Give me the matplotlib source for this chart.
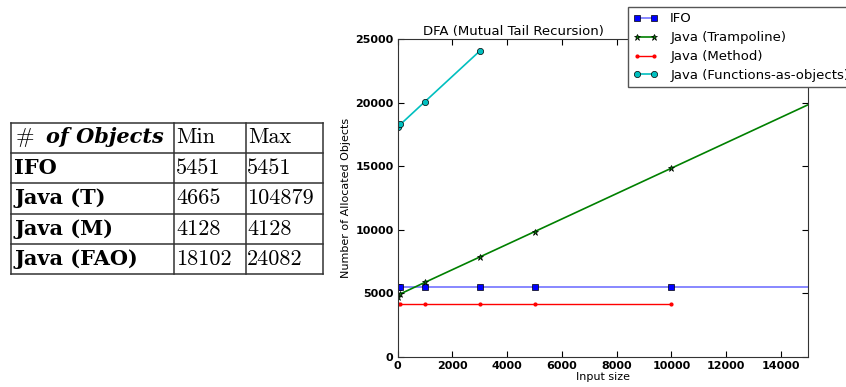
import matplotlib
matplotlib.use("Agg")
import matplotlib.pyplot as plt
from matplotlib.lines import Line2D

W, H = 846, 387

# table data
row_labels = ["IFO", "Java (T)", "Java (M)", "Java (FAO)"]
obj_min = [5451, 4665, 4128, 18102]
obj_max = [5451, 104879, 4128, 24082]

# series
x_ifo = [10, 100, 1000, 3000, 5000, 10000, 100000]
y_ifo = [5451, 5451, 5451, 5451, 5451, 5451, 5451]
x_tramp = [10, 100, 1000, 3000, 5000, 10000, 100000]
y_tramp = [4665, 4950, 5860, 7855, 9850, 14850, 104879]
x_meth = [10, 100, 1000, 3000, 5000, 10000]
y_meth = [4128, 4128, 4128, 4128, 4128, 4128]
x_fao = [10, 100, 1000, 3000]
y_fao = [18102, 18300, 20100, 24082]


def px(x, y):
    return x / W, 1 - y / H


fig = plt.figure(figsize=(W / 100, H / 100), dpi=100)
fig.patch.set_facecolor("white")

# --- table on the left ---
col_edges = [11, 174, 246, 323]
row_edges = [122.7, 152.5, 183.3, 214, 244.3, 274]
baselines = [143.3, 173.5, 204, 235, 265]
tfs = 16
lc = "#333333"
for yy in row_edges:
    fig.add_artist(Line2D([col_edges[0] / W, col_edges[-1] / W], [1 - yy / H] * 2,
                          color=lc, lw=1.1))
for xx in col_edges:
    fig.add_artist(Line2D([xx / W] * 2, [1 - row_edges[0] / H, 1 - row_edges[-1] / H],
                          color=lc, lw=1.1))

fig.text(*px(16, baselines[0]), "#", family="cmr10", fontsize=tfs, va="baseline")
fig.text(*px(46, baselines[0]), "of Objects", family="DejaVu Serif", fontsize=15,
         weight="bold", style="italic", va="baseline")
fig.text(*px(176, baselines[0]), "Min", family="cmr10", fontsize=tfs, va="baseline")
fig.text(*px(248, baselines[0]), "Max", family="cmr10", fontsize=tfs, va="baseline")
for i, lab in enumerate(row_labels):
    b = baselines[i + 1]
    fig.text(*px(14, b), lab, family="DejaVu Serif", fontsize=15, weight="bold",
             va="baseline")
    fig.text(*px(176, b), str(obj_min[i]), family="cmr10", fontsize=tfs, va="baseline")
    fig.text(*px(247, b), str(obj_max[i]), family="cmr10", fontsize=tfs, va="baseline")

# --- line chart ---
ax = fig.add_axes([397.7 / W, 1 - 356.7 / H, 410.6 / W, 317.4 / H])
ax.plot(x_ifo, y_ifo, "-", color="#7373ff", marker="s", ms=4.5, mfc="blue", mec="black",
        mew=0.5, lw=1.2, label="IFO")
ax.plot(x_tramp, y_tramp, "-", color="green", marker="*", ms=5, mfc="green", mec="black",
        mew=0.5, lw=1.2, label="Java (Trampoline)")
ax.plot(x_meth, y_meth, "-", color="red", marker=".", ms=4, mfc="red", mec="red",
        lw=1.0, label="Java (Method)")
ax.plot(x_fao, y_fao, "-", color="#00bfbf", marker="o", ms=4.5, mfc="#00bfbf", mec="black",
        mew=0.5, lw=1.2, label="Java (Functions-as-objects)")

ax.set_xlim(0, 15000)
ax.set_ylim(0, 25000)
ax.set_xticks(range(0, 15001, 2000))
ax.set_yticks(range(0, 25001, 5000))
ax.tick_params(direction="in", top=True, right=True, labelsize=8, length=4, pad=3)
for lbl in ax.get_xticklabels() + ax.get_yticklabels():
    lbl.set_fontweight("bold")
for s in ax.spines.values():
    s.set_color("#333333")
# title sits left of the axes centre in the original
ax.set_title("DFA (Mutual Tail Recursion)", fontsize=9.5, pad=3, x=0.281)
ax.set_xlabel("Input size", fontsize=8, labelpad=1)
ax.set_ylabel("Number of Allocated Objects", fontsize=8, labelpad=3)

ax.legend(loc="upper left", bbox_to_anchor=px(628, 7), bbox_transform=fig.transFigure,
          borderaxespad=0, fontsize=9.5, fancybox=False, framealpha=1, numpoints=2,
          edgecolor="#555555", handlelength=1.9, handletextpad=0.9,
          labelspacing=0.45, borderpad=0.4)

fig.savefig("out.png", dpi=100, facecolor="white")
